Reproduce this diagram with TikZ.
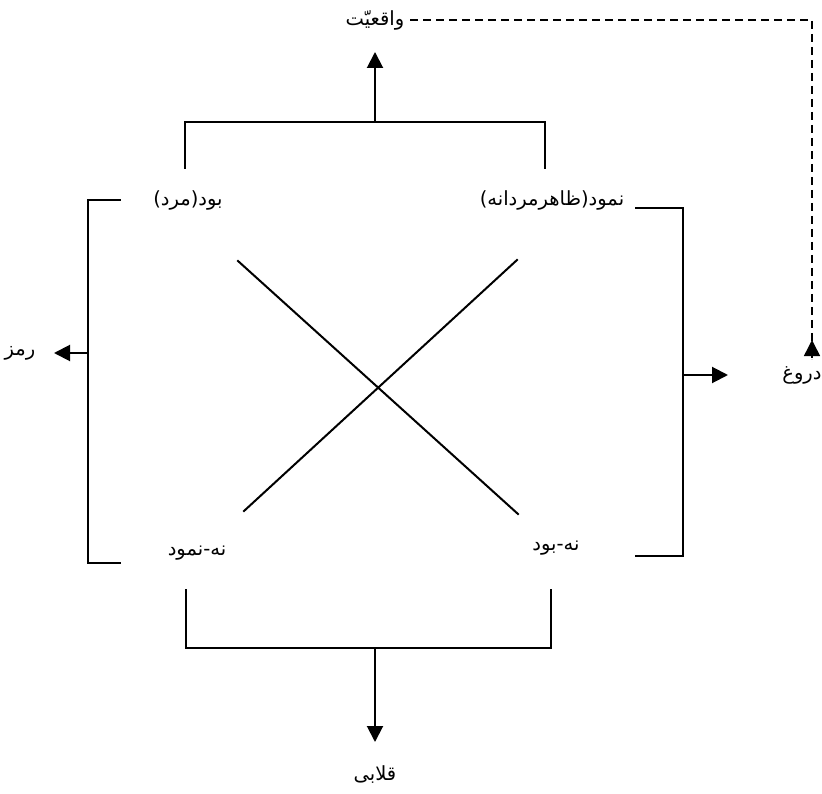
\documentclass[tikz,border=0pt]{standalone}
\usepackage{fontspec}
\newfontfamily\arabicfont[Script=Arabic]{DejaVu Sans}
\TeXXeTstate=1
\usetikzlibrary{arrows.meta}
\newcommand{\fa}[1]{{\arabicfont\beginR #1\endR}}

\begin{document}
\begin{tikzpicture}[x=1pt,y=-1pt,line width=2pt,line cap=rect,
  lbl/.style={inner sep=0pt,font=\fontsize{19.5}{22}\selectfont},
  arr/.style={-{Triangle[length=16pt,width=16pt]}},
  dsh/.style={line width=1.5pt,dash pattern=on 8pt off 5pt}]
\useasboundingbox (0,0) rectangle (822,794);

% labels
\node[lbl] (real)  at (375,20)  {\fa{واقعیّت}};
\node[lbl] (lie)   at (802,375) {\fa{دروغ}};
\node[lbl] (sym)   at (20,353)  {\fa{رمز}};
\node[lbl] (fake)  at (375,775) {\fa{قلابی}};
\node[lbl] (bud)   at (188,200) {\fa{بود(مرد)}};
\node[lbl] (namud) at (552,200) {\fa{نمود(ظاهرمردانه)}};
\node[lbl] (nnamud) at (197,553) {\fa{نه-نمود}};
\node[lbl] (nbud)  at (556,548) {\fa{نه-بود}};

% bracket corners and arrow ends
\coordinate (tl) at (185,168); \coordinate (tr) at (545,168);
\coordinate (tm) at (375,122); \coordinate (tt) at (375,52);
\coordinate (bl) at (186,590); \coordinate (br) at (551,590);
\coordinate (bm) at (375,648); \coordinate (bb) at (375,742);
\coordinate (lt) at (120,200); \coordinate (lb) at (120,563);
\coordinate (lm) at (88,353);  \coordinate (ll) at (54,353);
\coordinate (rt) at (636,208); \coordinate (rb) at (636,556);
\coordinate (rm) at (683,375); \coordinate (rr) at (728,375);
\coordinate (d0) at (410,20);  \coordinate (d1) at (812,20);
\coordinate (d2) at (812,340);

% top bracket
\draw (tl) -- (tl|-tm) -- (tr|-tm) -- (tr);
\draw[arr] (tm) -- (tt);
% bottom bracket
\draw (bl) -- (bl|-bm) -- (br|-bm) -- (br);
\draw[arr] (bm) -- (bb);
% left bracket
\draw (lt) -- (lm|-lt) -- (lm|-lb) -- (lb);
\draw[arr] (lm) -- (ll);
% right bracket
\draw (rt) -- (rm|-rt) -- (rm|-rb) -- (rb);
\draw[arr] (rm) -- (rr);

% crossing diagonals
\coordinate (x1) at (238,261); \coordinate (x2) at (518,514);
\coordinate (x3) at (517,260); \coordinate (x4) at (244,511);
\draw (x1) -- (x2);
\draw (x3) -- (x4);

% dashed link
\draw[dsh,line cap=butt] (d0) -- (d1) -- ([yshift=-19pt]d2);
\draw[arr,line width=1.5pt] ([yshift=-17pt]d2) -- (d2);
\end{tikzpicture}
\end{document}
